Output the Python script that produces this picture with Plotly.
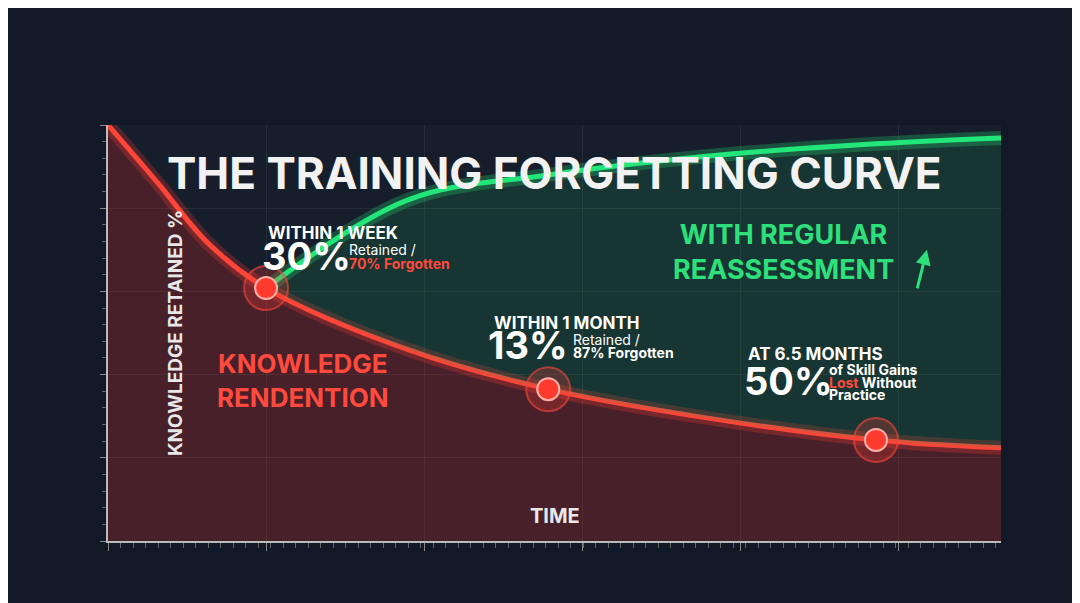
import plotly.graph_objects as go

red_x = [0, 5.6, 11.2, 17.7, 33.6, 49.3, 67, 86, 100]
red_y = [100, 86, 71.6, 60.8, 46, 36.5, 29.6, 24.3, 22.4]
green_x = [17.7, 33.6, 49.3, 67, 86, 100]
green_y = [60.8, 82, 88, 92.5, 95.5, 96.9]
base_y = [60.8, 46, 36.5, 29.6, 24.3, 22.4]
marker_x = [17.7, 49.3, 86]
marker_y = [60.8, 36.5, 24.3]

fig = go.Figure()
fig.add_trace(go.Scatter(x=red_x, y=red_y, mode="lines", line=dict(color="rgba(255,60,50,0.25)", width=14, shape="spline"),
                         fill="tozeroy", fillcolor="rgba(200,40,35,0.28)", hoverinfo="skip"))
fig.add_trace(go.Scatter(x=red_x, y=red_y, mode="lines", line=dict(color="#ff4438", width=5, shape="spline"), hoverinfo="skip"))
fig.add_trace(go.Scatter(x=green_x, y=base_y, mode="lines", line=dict(width=0, shape="spline"), hoverinfo="skip"))
fig.add_trace(go.Scatter(x=green_x, y=green_y, mode="lines", line=dict(color="rgba(40,230,120,0.25)", width=14, shape="spline"),
                         fill="tonexty", fillcolor="rgba(30,160,90,0.18)", hoverinfo="skip"))
fig.add_trace(go.Scatter(x=green_x, y=green_y, mode="lines", line=dict(color="#22e67a", width=5, shape="spline"), hoverinfo="skip"))
fig.add_trace(go.Scatter(x=marker_x, y=marker_y, mode="markers",
                         marker=dict(size=44, color="rgba(255,60,50,0.25)", line=dict(color="rgba(255,70,60,0.6)", width=2)), hoverinfo="skip"))
fig.add_trace(go.Scatter(x=marker_x, y=marker_y, mode="markers",
                         marker=dict(size=22, color="#ff3b30", line=dict(color="#ffb0a8", width=2)), hoverinfo="skip"))

ann = []
def t(x, y, text, size, color="white", anchor="left"):
    ann.append(dict(x=x, y=y, xref="paper", yref="paper", text=text, showarrow=False,
                    xanchor=anchor, yanchor="middle", font=dict(size=size, color=color, family="Inter, Arial Black, sans-serif")))

t(0.5, 0.885, "<b>THE TRAINING FORGETTING CURVE</b>", 44, "#f2f2f2", "center")
t(0.177, 0.74, "<b>WITHIN 1 WEEK</b>", 17)
t(0.17, 0.685, "<b>30%</b>", 38)
t(0.268, 0.70, "Retained /", 14)
t(0.268, 0.668, "<b>70% Forgotten</b>", 14, "#ff4a3d")
t(0.63, 0.695, "<b>WITH REGULAR<br>REASSESSMENT</b>", 27, "#2ee07c", "left")
t(0.43, 0.525, "<b>WITHIN 1 MONTH</b>", 17)
t(0.423, 0.47, "<b>13%</b>", 38)
t(0.518, 0.485, "Retained /", 14)
t(0.518, 0.452, "<b>87% Forgotten</b>", 14)
t(0.715, 0.45, "<b>AT 6.5 MONTHS</b>", 17)
t(0.71, 0.385, "<b>50%</b>", 38)
t(0.805, 0.412, "<b>of Skill Gains</b>", 14)
t(0.805, 0.382, "<b><span style='color:#ff4a3d'>Lost</span> Without</b>", 14)
t(0.805, 0.352, "<b>Practice</b>", 14)
t(0.12, 0.385, "<b>KNOWLEDGE<br>RENDENTION</b>", 26, "#ff4a3d")
t(0.5, 0.06, "<b>TIME</b>", 20, "#e8e8e8", "center")
ann.append(dict(x=0.06, y=0.5, xref="paper", yref="paper", text="<b>KNOWLEDGE RETAINED %</b>", showarrow=False,
                textangle=-90, font=dict(size=19, color="#e8e8e8", family="Inter, sans-serif")))
ann.append(dict(x=0.917, y=0.7, ax=-10, ay=40, xref="paper", yref="paper",
                showarrow=True, arrowhead=2, arrowwidth=3, arrowcolor="#2ee07c", text=""))

fig.update_layout(
    width=1080, height=603, showlegend=False,
    paper_bgcolor="#121926", plot_bgcolor="#161e2b",
    margin=dict(l=100, r=87, t=117, b=70),
    annotations=ann,
    xaxis=dict(range=[0, 100], showgrid=True, gridcolor="rgba(255,255,255,0.07)", dtick=17.7, tick0=0,
               showticklabels=False, zeroline=False, showline=True, linecolor="#bbbbbb", linewidth=2,
               ticks="outside", ticklen=8, tickcolor="#888",
               minor=dict(dtick=1.4, ticks="outside", ticklen=5, tickcolor="#666")),
    yaxis=dict(range=[0, 100], showgrid=True, gridcolor="rgba(255,255,255,0.07)", dtick=20,
               showticklabels=False, zeroline=False, showline=True, linecolor="#bbbbbb", linewidth=2,
               ticks="outside", ticklen=6, tickcolor="#888",
               minor=dict(dtick=4, ticks="outside", ticklen=4, tickcolor="#666")),
)
fig.write_html("out.html")
